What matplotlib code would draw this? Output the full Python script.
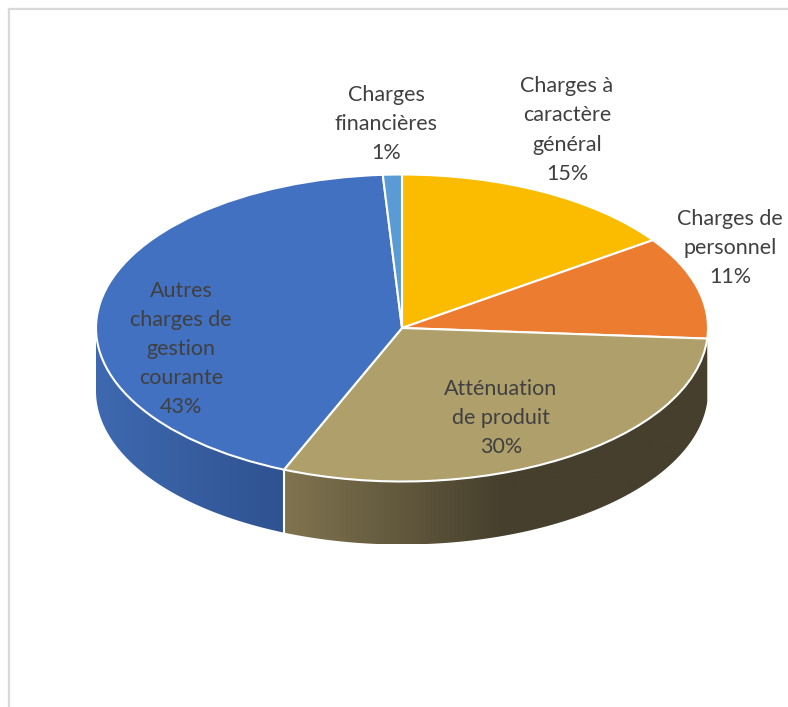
import numpy as np
import matplotlib
matplotlib.use('Agg')
import matplotlib.pyplot as plt
from matplotlib.colors import to_rgb
from matplotlib.lines import Line2D
from matplotlib.patches import Polygon

categories = ['Charges à\ncaractère\ngénéral', 'Charges de\npersonnel', 'Atténuation\nde produit',
              'Autres\ncharges de\ngestion\ncourante', 'Charges\nfinancières']
values = [15.3, 10.8, 30.2, 42.7, 1.0]
colors = ['#FBBC00', '#EC7C30', '#AF9F6B', '#4371C1', '#5B9BD5']

# where the labels sit, in pixels of the picture
label_px = [(567, 130), (730, 248), (501, 418), (181, 349), (386, 124)]

W, H = 788, 707
cx, cy, rx, ry, depth = 402, 328, 306, 153.5, 63

plt.rcParams['font.family'] = ['Lato', 'DejaVu Sans']

fig = plt.figure(figsize=(W / 100, H / 100), dpi=100)
ax = fig.add_axes([0, 0, 1, 1])
ax.pie(values, colors=colors, startangle=90, counterclock=False,
       wedgeprops={'edgecolor': 'white', 'linewidth': 1.5, 'zorder': 3})
# squash the circle into the tilted ellipse
ax.set_aspect('auto')
xlim = (-cx / rx, (W - cx) / rx)
ylim = ((cy - H) / ry, cy / ry)
d = depth / ry

# side wall shades, (x in pie units, colour) at both ends of the gradient
shades = {2: ((-0.38, '#80744F'), (0.33, '#463F2D')),
          3: ((-1.0, '#3E69B0'), (-0.38, '#2F5290'))}

edges = 90 - 360 * np.cumsum([0] + values) / sum(values)
for i, (left, right) in shades.items():
    # front part of the wedge only, sin(theta) < 0
    th = np.radians(np.linspace(max(edges[i + 1], -180), min(edges[i], 0), 200))
    top = np.column_stack([np.cos(th), np.sin(th)])
    bottom = np.column_stack([np.cos(th), np.sin(th) - d])[::-1]
    wall = Polygon(np.vstack([top, bottom]), closed=True, fc='none', ec='none', transform=ax.transData)
    ax.add_patch(wall)

    x0, x1 = top[:, 0].min(), top[:, 0].max()
    xs = np.linspace(x0, x1, 400)
    t = np.clip((xs - left[0]) / (right[0] - left[0]), 0, 1)[None, :, None]
    grad = np.array(to_rgb(left[1])) + (np.array(to_rgb(right[1])) - np.array(to_rgb(left[1]))) * t
    im = ax.imshow(grad, extent=(x0, x1, -1 - d, 0.2), aspect='auto', zorder=1, interpolation='bilinear')
    im.set_clip_path(wall)

ax.set_xlim(xlim)
ax.set_ylim(ylim)

# white seam between the two visible walls
seam = np.radians(edges[3])
ax.plot([np.cos(seam)] * 2, [np.sin(seam), np.sin(seam) - d], color='white', lw=1.5, zorder=2)

for text, pos, v in zip(categories, label_px, values):
    fig.text(pos[0] / W, 1 - pos[1] / H, '{}\n{:.0f}%'.format(text, v), ha='center', va='center',
             fontsize=15.5, color='#404040', linespacing=1.57, zorder=5)

# frame of the original chart, top and left only
fig.add_artist(Line2D([8.5 / W, 8.5 / W], [0, 1 - 8.5 / H], color='#D9D9D9', lw=1.6))
fig.add_artist(Line2D([8.5 / W, 1], [1 - 8.5 / H, 1 - 8.5 / H], color='#D9D9D9', lw=1.6))

fig.savefig('out.png', dpi=100)
